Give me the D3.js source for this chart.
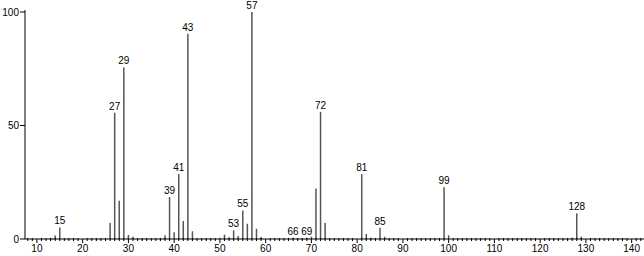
<!DOCTYPE html>
<html>
<head>
<meta charset="utf-8">
<script src="https://cdn.jsdelivr.net/npm/d3@7"></script>
<style>
  body { margin: 0; background: #fff; }
  svg { display: block; }
  text { font-family: "Liberation Sans", Arial, sans-serif; font-size: 10px; fill: #000; }
</style>
</head>
<body>
<div id="chart"></div>
<script>
// m/z and relative abundance (%)
let masses      = [13, 14, 15, 26, 27, 28, 29, 30, 31, 38, 39, 40, 41, 42, 43, 44,
                   50, 51, 52, 53, 54, 55, 56, 57, 58, 59, 66, 67, 69, 70, 71, 72, 73,
                   81, 82, 83, 85, 86, 99, 100, 127, 128, 129];
let intensities = [0.5, 1.5, 5.1, 7.1, 55.6, 16.8, 75.6, 1.8, 1.0, 1.6, 18.5, 3.0, 28.6, 7.9, 90.4, 3.4,
                   0.6, 1.9, 0.8, 3.8, 1.3, 12.6, 6.7, 100, 4.5, 0.9, 0.5, 0.4, 0.6, 1.0, 22.2, 56, 7.0,
                   28.6, 2.2, 0.6, 5.0, 1.0, 22.8, 1.6, 0.6, 11.3, 1.0];
let labelled    = [15, 27, 29, 39, 41, 43, 53, 55, 57, 66, 69, 72, 81, 85, 99, 128];
let xTicks      = [10, 20, 30, 40, 50, 60, 70, 80, 90, 100, 110, 120, 130, 140];
let yTicks      = [0, 50, 100];

let width = 644, height = 256;
let marginLeft = 25, plotRight = 644, plotTop = 12, baseY = 239;

let peaks = masses.map(function (m, i) { return {mz: m, val: intensities[i]}; });

let x = d3.scaleLinear().domain([7.4, 142.7]).range([marginLeft, plotRight]);
let y = d3.scaleLinear().domain([0, 100]).range([baseY, plotTop]);

let svg = d3.select("#chart").append("svg")
    .attr("width", width)
    .attr("height", height);

// stick peaks
svg.append("g")
    .selectAll("line")
    .data(peaks)
    .enter().append("line")
    .attr("x1", function (d) { return x(d.mz); })
    .attr("x2", function (d) { return x(d.mz); })
    .attr("y1", y(0))
    .attr("y2", function (d) { return y(d.val); })
    .attr("stroke", "#555")
    .attr("stroke-width", 1.5);

// peak labels
svg.append("g")
    .selectAll("text")
    .data(peaks.filter(function (d) { return labelled.indexOf(d.mz) >= 0; }))
    .enter().append("text")
    .attr("x", function (d) { return x(d.mz); })
    .attr("y", function (d) { return y(d.val) - 3; })
    .attr("text-anchor", "middle")
    .text(function (d) { return d.mz; });

// x axis
let minor = d3.range(8, 143).filter(function (v) { return v % 10 !== 0; });
let gx = svg.append("g").attr("transform", "translate(0," + baseY + ")");
gx.append("line")
    .attr("x1", marginLeft).attr("x2", plotRight)
    .attr("stroke", "#000");
gx.selectAll(".minor")
    .data(minor)
    .enter().append("line")
    .attr("class", "minor")
    .attr("x1", function (d) { return x(d); })
    .attr("x2", function (d) { return x(d); })
    .attr("y1", -1).attr("y2", 2)
    .attr("stroke", "#000");
gx.selectAll(".major")
    .data(xTicks)
    .enter().append("line")
    .attr("class", "major")
    .attr("x1", function (d) { return x(d); })
    .attr("x2", function (d) { return x(d); })
    .attr("y1", 0).attr("y2", 4)
    .attr("stroke", "#000");
gx.selectAll("text")
    .data(xTicks)
    .enter().append("text")
    .attr("x", function (d) { return x(d); })
    .attr("y", 13)
    .attr("text-anchor", "middle")
    .text(function (d) { return d; });

// y axis
let gy = svg.append("g").attr("transform", "translate(" + marginLeft + ",0)");
gy.append("line")
    .attr("y1", 10).attr("y2", baseY)
    .attr("stroke", "#000");
gy.selectAll(".tick")
    .data(yTicks)
    .enter().append("line")
    .attr("class", "tick")
    .attr("x1", -5).attr("x2", 0)
    .attr("y1", function (d) { return y(d); })
    .attr("y2", function (d) { return y(d); })
    .attr("stroke", "#000");
gy.selectAll("text")
    .data(yTicks)
    .enter().append("text")
    .attr("x", -6)
    .attr("y", function (d) { return y(d) + 3.5; })
    .attr("text-anchor", "end")
    .text(function (d) { return d; });
</script>
</body>
</html>
